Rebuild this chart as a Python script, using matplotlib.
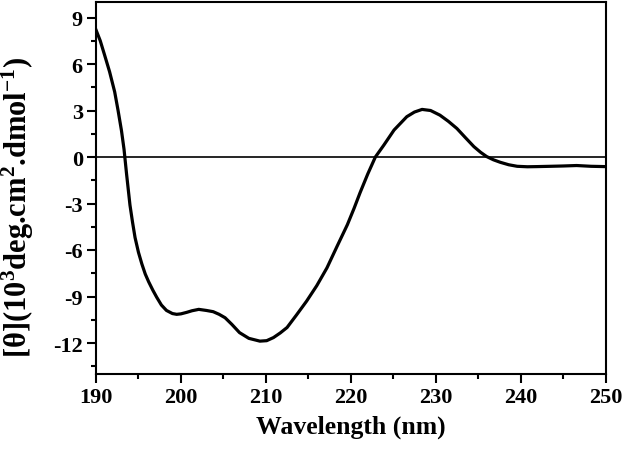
import numpy as np
import matplotlib
matplotlib.use('Agg')
import matplotlib.pyplot as plt
from matplotlib.ticker import MultipleLocator

plt.rcParams['font.family'] = 'Liberation Serif'
plt.rcParams['font.weight'] = 'bold'
plt.rcParams['mathtext.fontset'] = 'custom'
plt.rcParams['mathtext.rm'] = 'Liberation Serif:bold'
plt.rcParams['mathtext.bf'] = 'Liberation Serif:bold'
plt.rcParams['mathtext.default'] = 'rm'
plt.rcParams['axes.unicode_minus'] = False

# CD spectrum
wavelength = [190.0, 190.5, 191.0, 191.6, 192.2, 192.6, 193.0, 193.3, 193.6, 194.0,
              194.3, 194.6, 195.0, 195.4, 195.8, 196.2, 196.7, 197.15, 197.7,
              198.3, 199.0, 199.5, 200.0, 200.7, 201.3, 202.1, 203.0, 203.8,
              204.5, 205.2, 206.0, 206.9, 208.0, 209.3, 210.1, 210.9, 211.7,
              212.5, 213.6, 214.8, 216.0, 217.2, 218.4, 219.6, 220.4, 221.1,
              222.0, 222.9, 223.9, 225.1, 226.6, 227.5, 228.4, 229.4, 230.5,
              231.5, 232.5, 233.5, 234.5, 235.3, 236.0, 236.8, 237.6, 238.6,
              239.6, 240.8, 241.9, 243.5, 245.0, 246.6, 248.3, 250.0]
ellipticity = [8.2, 7.5, 6.6, 5.5, 4.2, 3.0, 1.7, 0.5, -1.1, -3.1,
               -4.2, -5.2, -6.15, -6.9, -7.55, -8.05, -8.6, -9.05, -9.55,
               -9.9, -10.1, -10.15, -10.12, -10.02, -9.92, -9.83, -9.9, -9.98,
               -10.15, -10.37, -10.8, -11.33, -11.7, -11.88, -11.85, -11.65, -11.35,
               -11.0, -10.2, -9.3, -8.3, -7.15, -5.75, -4.37, -3.3, -2.3,
               -1.1, 0.0, 0.77, 1.74, 2.6, 2.9, 3.07, 3.0, 2.7,
               2.3, 1.84, 1.25, 0.67, 0.3, 0.03, -0.18, -0.34, -0.5,
               -0.6, -0.63, -0.62, -0.6, -0.58, -0.55, -0.6, -0.62]

fig = plt.figure(figsize=(6.25, 4.52), dpi=100)
ax = fig.add_axes([96/625, 1-375/452, (605.5-96)/625, (375-3)/452])

ax.plot(wavelength, ellipticity, color='black', lw=2.3, solid_joinstyle='round')
ax.axhline(0, color='black', lw=1.2)

ax.set_xlim(190, 250)
ax.set_ylim(-14, 10)
ax.xaxis.set_major_locator(MultipleLocator(10))
ax.xaxis.set_minor_locator(MultipleLocator(5))
ax.yaxis.set_major_locator(MultipleLocator(3))
ax.yaxis.set_minor_locator(MultipleLocator(1.5))
ax.set_yticks([-12, -9, -6, -3, 0, 3, 6, 9])

ax.tick_params(which='major', direction='out', length=6.5, width=1.5,
               labelsize=16, pad=3)
ax.tick_params(which='minor', direction='out', length=3.5, width=1.5)
ax.tick_params(top=False, right=False, which='both')
for s in ax.spines.values():
    s.set_linewidth(1.5)

ax.set_xlabel('Wavelength (nm)', fontsize=18.5, fontweight='bold', labelpad=5)
ax.set_ylabel(r'[θ](10$^{3}$deg.cm$^{2}$.dmol$^{-1}$)', fontsize=22,
              fontweight='bold')
ax.yaxis.set_label_coords(-0.118, 0.45)

fig.savefig('out.png', dpi=100)
